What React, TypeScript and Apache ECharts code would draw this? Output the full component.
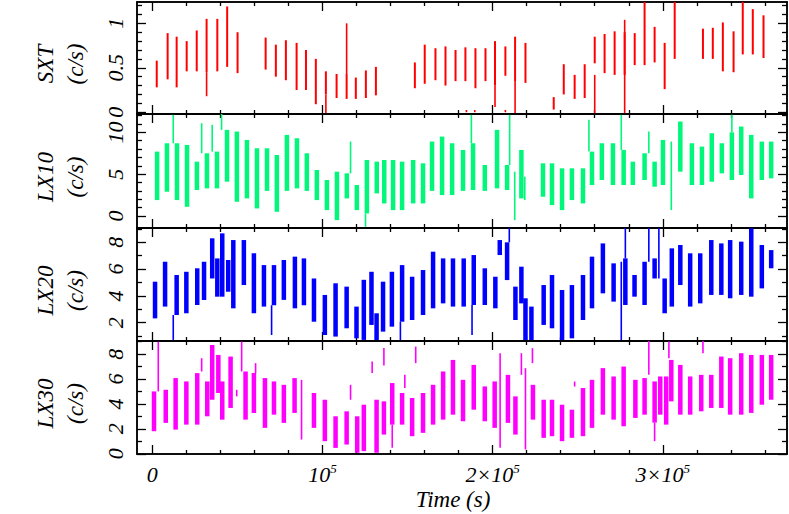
import React, { useEffect, useRef } from "react";
import * as echarts from "echarts";

// ---------- data (time in s, low c/s, high c/s) ----------
const sxtBins: number[][] = [
  [2600, 0.28, 0.58], [9000, 0.37, 0.89], [14300, 0.28, 0.85], [20200, 0.46, 0.8], [26100, 0.46, 0.92],
  [31900, 0.45, 1.05], [38200, 0.46, 1.05], [44000, 0.51, 1.19], [50100, 0.44, 0.9], [66600, 0.48, 0.84],
  [72600, 0.4, 0.76], [78500, 0.36, 0.81], [84800, 0.25, 0.78], [90300, 0.25, 0.7], [96100, 0.09, 0.6],
  [102000, 0.2, 0.46], [108300, 0.16, 0.43], [114200, 0.15, 0.43], [119600, 0.15, 0.39], [125500, 0.16, 0.47],
  [131400, 0.19, 0.51], [154300, 0.27, 0.56], [160100, 0.32, 0.76], [166400, 0.36, 0.72], [172300, 0.3, 0.74],
  [178200, 0.35, 0.7], [184000, 0.35, 0.73], [189900, 0.27, 0.72], [195800, 0.35, 0.72], [201400, 0.3, 0.8],
  [207500, 0.41, 0.74], [213200, 0.35, 0.85], [219300, 0.33, 0.78], [235900, 0.03, 0.17], [241800, 0.2, 0.54],
  [248200, 0.15, 0.42], [254100, 0.16, 0.54], [260000, 0.55, 0.85], [265800, 0.44, 0.88], [271700, 0.42, 0.91],
  [277600, 0.42, 0.9], [283500, 0.53, 0.89], [289300, 0.53, 1.24], [295200, 0.56, 0.96], [301100, 0.26, 0.78],
  [307000, 0.6, 1.24], [323600, 0.6, 0.94], [329400, 0.6, 0.95], [335300, 0.46, 1.01], [341600, 0.45, 0.91],
  [347000, 0.65, 1.24], [352900, 0.65, 1.16], [359200, 0.61, 1.09],
];
const sxtThin: number[][] = [
  [31900, 0.18, 0.45], [102000, -0.01, 0.2], [114200, 0.43, 1.0], [201400, 0.06, 0.3], [213200, -0.01, 0.35],
  [260000, -0.01, 0.42], [277600, -0.01, 1.04], [184600, 0.0, 0.025], [189500, 0.0, 0.025], [207500, 0.0, 0.025],
];

const lx10Bins: number[][] = [
  [2800, 1.9, 7.7], [8600, 2.9, 8.7], [14500, 1.9, 8.7], [20400, 1.1, 8.5], [26200, 3.1, 6.5],
  [32100, 3.3, 7.5], [38000, 3.3, 7.7], [43900, 4.1, 10.3], [49700, 1.7, 10.1], [55600, 2.1, 9.1],
  [61500, 0.9, 8.1], [67400, 3.0, 8.1], [73200, 0.5, 7.3], [79100, 3.0, 9.7], [85000, 3.3, 9.3],
  [90800, 3.0, 7.5], [96700, 1.9, 5.5], [102600, 0.7, 4.3], [108500, -0.5, 5.3], [114300, 2.1, 5.1],
  [120200, 0.7, 3.7], [126100, 0.3, 6.7], [131900, 2.7, 6.5], [136300, 1.5, 6.7], [141500, 0.7, 6.7],
  [146800, 0.7, 6.5], [153300, 1.5, 6.7], [159100, 1.5, 6.3], [164400, 3.0, 8.9], [170300, 2.5, 9.5],
  [176200, 2.5, 8.7], [182600, 3.0, 7.9], [188500, 3.1, 8.7], [195400, 3.0, 6.1], [202600, 3.3, 10.3],
  [208500, 3.1, 6.1], [216900, 2.1, 7.9], [229600, 2.3, 6.3], [234900, 1.3, 6.3], [240800, 0.7, 5.7],
  [246600, 1.9, 5.7], [253100, 1.5, 5.7], [258400, 3.7, 7.7], [264200, 4.3, 8.7], [270700, 3.7, 8.7],
  [277000, 3.7, 7.9], [282400, 3.7, 6.5], [289300, 4.3, 7.5], [295200, 3.5, 6.5], [300100, 3.7, 9.1],
  [310300, 5.3, 11.3], [317100, 3.7, 8.7], [323000, 3.7, 8.3], [328800, 4.1, 9.9], [334700, 5.1, 8.7],
  [340600, 4.3, 10.0], [346100, 4.9, 10.7], [352000, 2.1, 9.7], [358200, 4.3, 8.9], [363700, 4.5, 8.9],
];
const lx10Thin: number[][] = [
  [12300, 8.7, 12.1], [29000, 7.5, 11.1], [35200, 7.7, 10.9], [40700, 10.3, 12.5], [116500, 5.1, 8.9],
  [125300, -1.3, 0.3], [187500, 8.7, 12.1], [210000, 6.1, 12.1], [213000, -0.5, 5.3], [218900, 1.9, 4.7],
  [256600, 7.7, 11.5], [275600, 7.9, 12.1], [291800, 7.5, 10.1], [305000, 0.7, 8.9], [340600, 10.0, 12.1],
];

const lx20Bins: number[][] = [
  [1600, 2.32, 5.06], [7500, 3.2, 6.55], [14300, 2.57, 5.56], [20000, 2.7, 5.8], [26400, 3.32, 6.06],
  [30400, 3.69, 6.55], [35200, 5.3, 8.3], [38200, 3.94, 6.8], [41100, 3.94, 8.67], [44600, 4.31, 6.68],
  [47600, 3.07, 8.17], [53800, 4.81, 8.17], [59700, 2.7, 7.18], [65600, 3.2, 6.3], [71500, 3.3, 6.3],
  [77300, 3.7, 6.68], [83800, 3.07, 6.93], [89100, 3.3, 6.8], [95000, 2.07, 5.3], [101400, 1.08, 4.07],
  [107700, 0.96, 4.94], [114200, 1.58, 4.69], [120000, 0.83, 3.2], [124300, 0.71, 5.2], [128800, 1.83, 5.8],
  [131800, 0.7, 2.7], [135600, 1.33, 5.06], [140800, 1.7, 5.8], [146800, 2.07, 6.3], [152700, 2.2, 5.43],
  [159100, 2.57, 5.93], [165000, 3.07, 7.3], [170900, 3.44, 6.8], [176700, 3.2, 6.8], [183000, 3.2, 6.8],
  [188900, 3.32, 7.05], [195400, 3.32, 6.06], [201600, 3.07, 5.43], [204200, 7.05, 8.17], [208500, 5.18, 8.0],
  [213400, 2.2, 4.69], [216900, 3.44, 6.18], [219300, 0.7, 3.82], [222800, 0.7, 3.2], [230000, 1.83, 4.81],
  [234900, 1.58, 5.56], [240800, 0.7, 4.44], [246600, 0.83, 4.81], [253100, 2.2, 5.56], [258400, 3.07, 6.93],
  [264800, 4.19, 7.92], [271100, 3.57, 6.43], [278000, 3.32, 6.8], [283400, 3.94, 5.56], [289300, 3.32, 6.55],
  [295200, 5.3, 6.8], [301100, 2.7, 5.3], [305300, 3.2, 7.55], [310300, 4.81, 7.8], [316100, 3.2, 7.18],
  [322000, 3.44, 7.18], [328500, 4.07, 8.17], [334400, 4.07, 7.92], [339600, 3.82, 8.17], [346100, 4.07, 8.05],
  [352000, 3.94, 9.04], [358200, 4.56, 7.8], [363700, 6.06, 7.42],
];
const lx20Thin: number[][] = [
  [12300, 0.71, 2.57], [70100, 1.08, 3.3], [145800, 0.7, 2.07], [187900, 1.08, 3.32], [209800, 8.0, 9.1],
  [275600, 0.7, 6.55], [278000, 6.8, 9.1], [291800, 6.55, 9.1], [297700, 5.3, 9.1],
];

const lx30Bins: number[][] = [
  [1000, 1.81, 5.01], [7900, 2.48, 5.14], [13700, 1.94, 6.08], [20000, 2.34, 5.81], [26400, 2.34, 6.48],
  [32300, 3.01, 5.81], [35200, 4.34, 8.74], [38800, 4.88, 7.94], [41100, 2.74, 5.81], [46000, 3.68, 7.81],
  [54800, 2.74, 6.61], [59700, 3.28, 6.48], [66200, 2.08, 6.08], [71500, 3.14, 5.81], [77300, 2.48, 5.54],
  [83600, 3.28, 6.08], [95000, 2.08, 4.88], [101400, 1.01, 4.34], [107700, 0.47, 3.01], [114200, 0.74, 3.41],
  [120400, 0.08, 3.01], [124300, 0.21, 3.94], [131800, 0.08, 4.34], [136100, 1.54, 4.21], [141000, 2.34, 5.68],
  [146800, 2.34, 4.88], [152700, 1.41, 4.48], [159100, 1.68, 4.88], [165000, 2.34, 5.54], [170900, 2.74, 6.61],
  [176700, 3.14, 7.54], [182600, 2.61, 5.94], [188900, 3.54, 7.14], [195400, 2.61, 5.41], [201200, 2.08, 5.81],
  [209000, 2.48, 6.34], [213400, 1.54, 4.61], [223700, 2.74, 5.54], [230000, 1.28, 4.34], [234900, 1.41, 4.34],
  [240800, 1.01, 3.94], [246600, 1.28, 3.54], [253100, 1.41, 5.28], [258400, 2.08, 5.94], [264800, 3.14, 6.88],
  [271100, 2.74, 6.21], [277000, 2.21, 7.01], [283900, 2.88, 5.94], [289300, 3.14, 6.08], [295200, 2.5, 5.81],
  [298500, 3.14, 6.21], [302000, 2.34, 6.21], [305000, 4.21, 7.54], [310300, 3.14, 7.14], [316100, 3.14, 6.21],
  [322600, 3.41, 6.34], [328500, 3.68, 6.34], [334400, 3.68, 7.81], [339600, 3.14, 7.68], [346100, 3.14, 8.08],
  [352000, 3.28, 7.94], [358200, 3.94, 7.94], [363700, 4.34, 7.94],
];
const lx30Thin: number[][] = [
  [3500, 5.01, 9.0], [29000, 6.61, 7.68], [49600, 4.61, 5.14], [52500, 6.61, 9.01], [60700, 6.48, 7.28],
  [87700, 1.14, 5.94], [116500, 4.34, 5.54], [129200, 6.48, 7.41], [136100, 7.1, 8.5], [141000, 0.48, 2.34],
  [148400, 5.28, 6.34], [154800, 7.28, 8.61], [204400, 0.48, 8.08], [216900, 6.34, 8.08], [219300, 0.34, 6.88],
  [223400, 7.28, 8.48], [248200, 5.4, 5.8], [291800, 6.34, 9.14], [295200, 1.01, 2.5], [303600, 7.68, 9.01],
  [323600, 8.08, 9.14],
];

// ---------- axes ----------
const X_MIN = -9000;
const X_MAX = 373000;
const xMajorTicks = [0, 100000, 200000, 300000];
const xMinorTicks = [
  20000, 40000, 60000, 80000, 120000, 140000, 160000, 180000, 220000, 240000, 260000, 280000, 320000, 340000, 360000,
];
const xLabelValues = [0, 100000, 200000, 300000];

const panelTitles = ["SXT", "LX10", "LX20", "LX30"];
const unitTitle = "(c/s)";
const xTitle = "Time (s)";

const yRanges = [
  [-0.02, 1.24],
  [-1.44, 12.2],
  [0.63, 9.07],
  [-0.02, 9.06],
];
const yMajorTicks = [
  [0, 0.5, 1],
  [0, 5, 10],
  [2, 4, 6, 8],
  [0, 2, 4, 6, 8],
];
const yMinorTicks = [
  [0.1, 0.2, 0.3, 0.4, 0.6, 0.7, 0.8, 0.9, 1.1, 1.2],
  [1, 2, 3, 4, 6, 7, 8, 9, 11, 12],
  [1, 3, 5, 7, 9],
  [1, 3, 5, 7, 9],
];

const FONT = "Liberation Serif, serif";
const COLORS = ["#ff0000", "#00f77a", "#0000ff", "#ff00ff"];
const layout = [
  { top: 2, height: 112 },
  { top: 114, height: 114 },
  { top: 228, height: 113 },
  { top: 341, height: 113 },
];
const GRID_LEFT = 137;
const GRID_RIGHT = 2;

function fmtX(v: number): string {
  if (v === 0) return "{n|0}";
  const m = Math.round(v / 100000);
  if (m === 1) return "{n|10}{s|5}";
  return "{n|" + m + "×10}{s|5}";
}

function fmtY(v: number): string {
  return String(Math.round(v * 100) / 100);
}

function rectRender(w: number, color: string) {
  return (params: any, api: any) => {
    const t = api.value(0);
    const lo = api.value(1);
    const hi = api.value(2);
    const a = api.coord([t, hi]);
    const b = api.coord([t, lo]);
    return {
      type: "rect",
      shape: { x: a[0] - w / 2, y: a[1], width: w, height: Math.max(b[1] - a[1], 1.2) },
      style: { fill: color },
    };
  };
}

export default function App() {
  const ref = useRef<HTMLDivElement>(null);
  useEffect(() => {
    if (!ref.current) return;
    const chart = echarts.init(ref.current, undefined, { renderer: "svg" });
    const grids: any[] = [];
    const xAxes: any[] = [];
    const yAxes: any[] = [];
    const series: any[] = [];
    const graphics: any[] = [];
    const mains = [sxtBins, lx10Bins, lx20Bins, lx30Bins];
    const thins = [sxtThin, lx10Thin, lx20Thin, lx30Thin];
    const lineStyle = { color: "#000", width: 1.5 };
    const tickStyle = { color: "#000", width: 1.3 };

    layout.forEach((lay, i) => {
      grids.push({ left: GRID_LEFT, right: GRID_RIGHT, top: lay.top, height: lay.height, containLabel: false });
      const isBottom = i === layout.length - 1;
      const mkX = (position: string, ticks: number[], len: number, labels: boolean) => ({
        type: "value",
        gridIndex: i,
        position,
        min: X_MIN,
        max: X_MAX,
        axisLine: { show: true, onZero: false, lineStyle },
        axisTick: { show: true, inside: true, length: len, customValues: ticks, lineStyle: tickStyle },
        axisLabel: labels
          ? {
              show: true,
              customValues: xLabelValues,
              formatter: fmtX,
              margin: 8,
              rich: {
                n: { fontFamily: FONT, fontSize: 22, fontStyle: "italic", color: "#000", lineHeight: 24 },
                s: { fontFamily: FONT, fontSize: 13, fontStyle: "italic", color: "#000", verticalAlign: "top", lineHeight: 24 },
              },
            }
          : { show: false },
        splitLine: { show: false },
      });
      const xBase = xAxes.length;
      xAxes.push(mkX("bottom", xMajorTicks, 9, isBottom));
      xAxes.push(mkX("bottom", xMinorTicks, 4, false));
      xAxes.push(mkX("top", xMajorTicks, 9, false));
      xAxes.push(mkX("top", xMinorTicks, 4, false));

      const mkY = (position: string, ticks: number[], len: number, labels: boolean) => ({
        type: "value",
        gridIndex: i,
        position,
        min: yRanges[i][0],
        max: yRanges[i][1],
        axisLine: { show: true, onZero: false, lineStyle },
        axisTick: { show: true, inside: true, length: len, customValues: ticks, lineStyle: tickStyle },
        axisLabel: labels
          ? {
              show: true,
              customValues: yMajorTicks[i],
              formatter: fmtY,
              rotate: 90,
              margin: 11,
              fontFamily: FONT,
              fontSize: 22,
              fontStyle: "italic",
              color: "#000",
            }
          : { show: false },
        splitLine: { show: false },
      });
      const yBase = yAxes.length;
      yAxes.push(mkY("left", yMajorTicks[i], 9, true));
      yAxes.push(mkY("left", yMinorTicks[i], 5, false));
      yAxes.push(mkY("right", yMajorTicks[i], 9, false));
      yAxes.push(mkY("right", yMinorTicks[i], 5, false));

      series.push({
        type: "custom",
        xAxisIndex: xBase,
        yAxisIndex: yBase,
        clip: true,
        renderItem: rectRender(i === 0 ? 2 : 4.5, COLORS[i]),
        encode: { x: 0, y: [1, 2] },
        data: mains[i],
        silent: true,
      });
      series.push({
        type: "custom",
        xAxisIndex: xBase,
        yAxisIndex: yBase,
        clip: true,
        renderItem: rectRender(1.6, COLORS[i]),
        encode: { x: 0, y: [1, 2] },
        data: thins[i],
        silent: true,
      });

      const cy = lay.top + lay.height / 2 + 6;
      [
        { text: panelTitles[i], x: 45 },
        { text: unitTitle, x: 75 },
      ].forEach((t) => {
        graphics.push({
          type: "text",
          x: t.x,
          y: cy,
          rotation: Math.PI / 2,
          style: {
            text: t.text,
            fontFamily: FONT,
            fontSize: 23,
            fontStyle: "italic",
            fill: "#000",
            align: "center",
            verticalAlign: "middle",
          },
        });
      });
    });

    graphics.push({
      type: "text",
      x: 453,
      y: 499,
      style: {
        text: xTitle,
        fontFamily: FONT,
        fontSize: 23,
        fontStyle: "italic",
        fill: "#000",
        align: "center",
        verticalAlign: "middle",
      },
    });

    chart.setOption({
      animation: false,
      backgroundColor: "#ffffff",
      grid: grids,
      xAxis: xAxes,
      yAxis: yAxes,
      series,
      graphic: graphics,
    });
    return () => chart.dispose();
  }, []);

  return (
    <div
      ref={ref}
      style={{ position: "absolute", left: 0, top: 0, width: 789, height: 514, background: "#fff" }}
    />
  );
}
